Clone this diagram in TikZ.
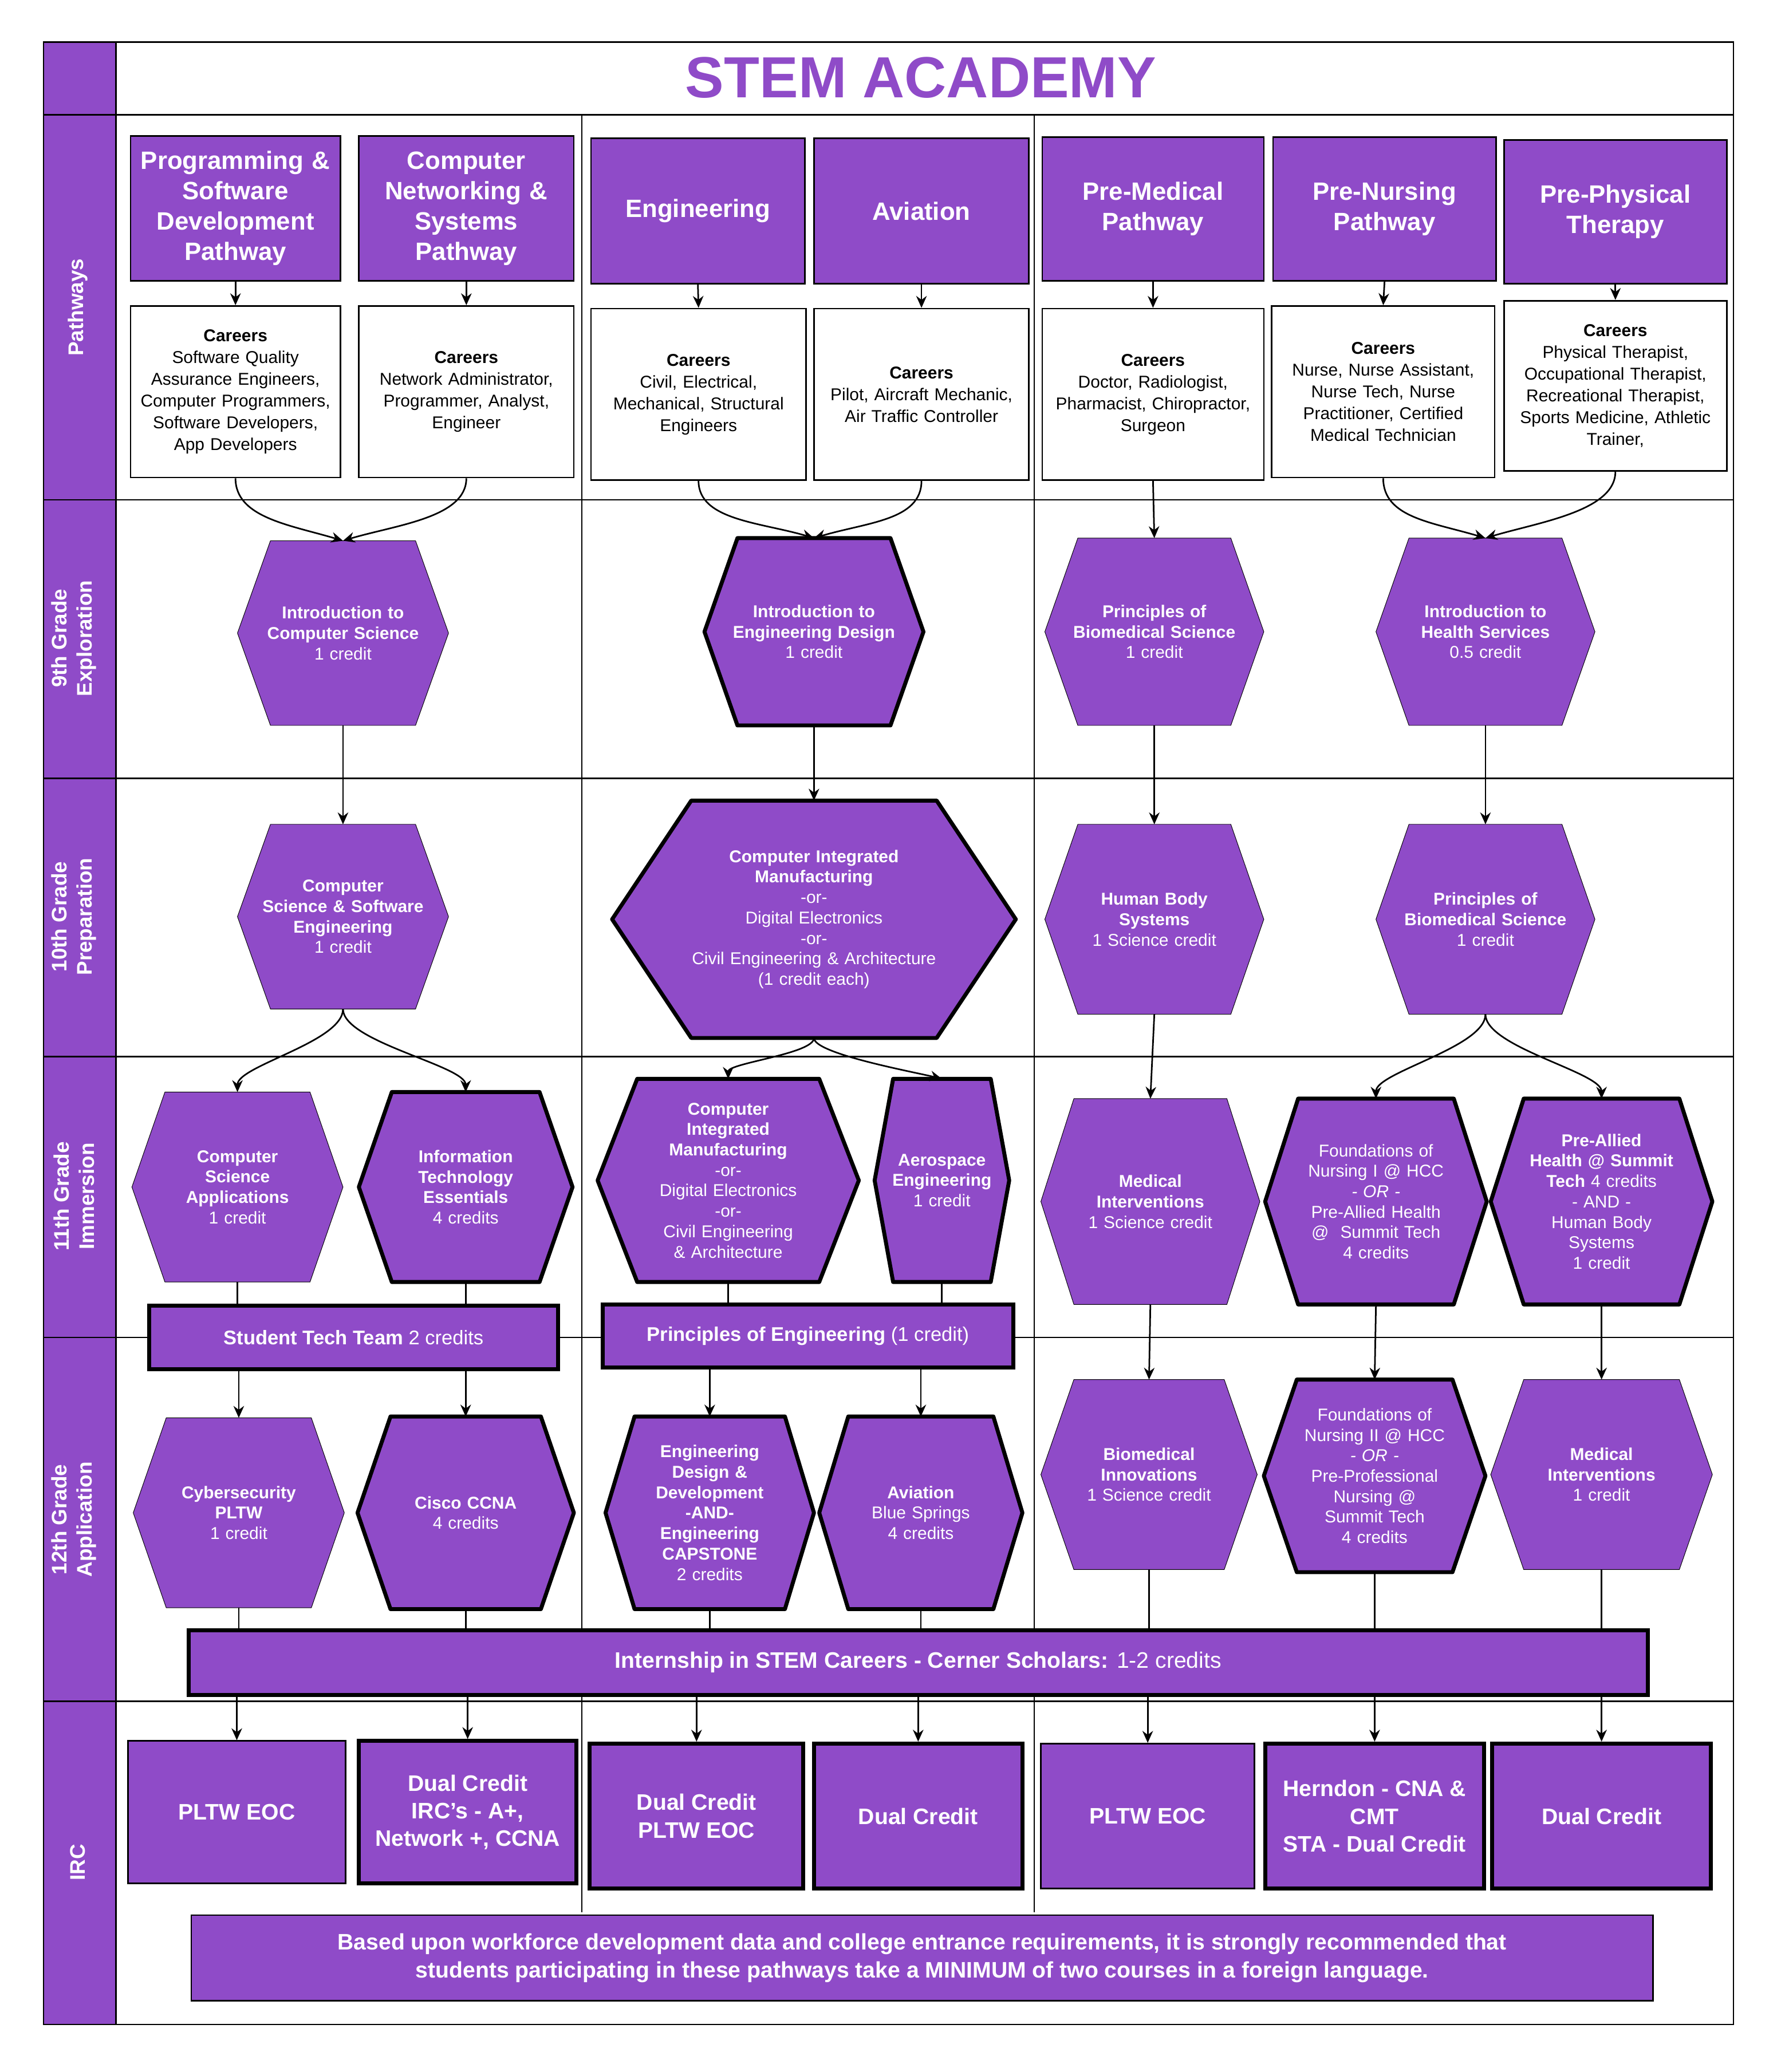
\documentclass[tikz,border=0pt]{standalone}
\usepackage{fontspec}
\setmainfont{Liberation Sans}
\usetikzlibrary{arrows.meta}
\definecolor{pp}{RGB}{143,75,200}
\newcommand\hexa[8]{%
\draw[#7] (#2-#4,#3) -- (#2-#4+#6,#3-#5) -- (#2+#4-#6,#3-#5) -- (#2+#4,#3) -- (#2+#4-#6,#3+#5) -- (#2-#4+#6,#3+#5) -- cycle;
\node[hextext,text width=2*#4-2*#6+40pt] (#1) at (#2,#3) {#8};
\coordinate (#1-t) at (#2,#3-#5); \coordinate (#1-b) at (#2,#3+#5);}
\begin{document}
\begin{tikzpicture}[x=1pt,y=-1pt,
 hthin/.style={fill=pp},
 hthick/.style={fill=pp,draw=black,line width=3pt,line join=round},
 hextext/.style={text=white,font=\fontsize{13}{15.5}\selectfont\bfseries,align=center,inner sep=0pt},
 pbox/.style={fill=pp,draw=black,line width=1.2pt,text=white,font=\fontsize{19}{23}\selectfont\bfseries,align=center,inner sep=0pt},
 cbox/.style={fill=white,draw=black,line width=1.2pt,font=\fontsize{13}{16.5}\selectfont,align=center,inner sep=0pt},
 bar/.style={fill=pp,draw=black,line width=3pt,text=white,font=\fontsize{15}{18}\selectfont\bfseries,align=center,inner sep=0pt},
 irc/.style={fill=pp,draw=black,line width=3pt,text=white,font=\fontsize{17}{21}\selectfont\bfseries,align=center,inner sep=0pt},
 lab/.style={rotate=90,text=white,font=\fontsize{16}{19}\selectfont\bfseries,align=center},
 conn/.style={line width=1.2pt,draw=black},
 arr/.style={conn,-{Stealth[length=9pt,width=8pt]}},
 grid/.style={line width=1.2pt,draw=black}]
\useasboundingbox (0,0) rectangle (1350,1571);
% frame
\fill[pp] (33,32) rectangle (88,1535);
\draw[grid] (33,32) rectangle (1314,1535);
\foreach \y in {87,379,590,801,1014,1290} \draw[grid] (33,\y) -- (1314,\y);
\draw[grid] (88,32) -- (88,1535);
\draw[grid] (441,87) -- (441,1450);
\draw[grid] (784,87) -- (784,1450);
\node[text=pp,font=\fontsize{44}{50}\selectfont\bfseries] (title) at (698,59) {STEM ACADEMY};
\node[lab] (l1) at (59,233) {Pathways};
\node[lab] (l2) at (56,484) {9th Grade\\Exploration};
\node[lab] (l3) at (56,695) {10th Grade\\Preparation};
\node[lab] (l4) at (56,907) {11th Grade\\Immersion};
\node[lab] (l5) at (56,1152) {12th Grade\\Application};
\node[lab] (l6) at (59,1412) {IRC};
% pathways
\node[pbox,minimum width=159pt,minimum height=110pt,text width=155pt] (p1) at (178.5,158) {Programming \&\\Software\\Development\\Pathway};
\node[pbox,minimum width=163pt,minimum height=110pt,text width=158pt] (p2) at (353.5,158) {Computer\\Networking \&\\Systems\\Pathway};
\node[pbox,minimum width=162pt,minimum height=110pt,text width=158pt] (p3) at (529,160) {Engineering};
\node[pbox,minimum width=163pt,minimum height=110pt,text width=158pt] (p4) at (698.5,160) {Aviation};
\node[pbox,minimum width=168pt,minimum height=109pt,text width=160pt] (p5) at (874,158.5) {Pre-Medical\\Pathway};
\node[pbox,minimum width=169pt,minimum height=109pt,text width=160pt] (p6) at (1049.5,158.5) {Pre-Nursing\\Pathway};
\node[pbox,minimum width=169pt,minimum height=109pt,text width=160pt] (p7) at (1224.5,160.5) {Pre-Physical\\Therapy};
% careers
\node[cbox,minimum width=159pt,minimum height=130pt,text width=158pt] (c1) at (178.5,297) {\textbf{Careers}\\Software Quality\\Assurance Engineers,\\Computer Programmers,\\Software Developers,\\App Developers};
\node[cbox,minimum width=163pt,minimum height=130pt,text width=158pt] (c2) at (353.5,297) {\textbf{Careers}\\Network Administrator,\\Programmer, Analyst,\\Engineer};
\node[cbox,minimum width=163pt,minimum height=130pt,text width=158pt] (c3) at (529.5,299) {\textbf{Careers}\\Civil, Electrical,\\Mechanical, Structural\\Engineers};
\node[cbox,minimum width=163pt,minimum height=130pt,text width=158pt] (c4) at (698.5,299) {\textbf{Careers}\\Pilot, Aircraft Mechanic,\\Air Traffic Controller};
\node[cbox,minimum width=168pt,minimum height=130pt,text width=166pt] (c5) at (874,299) {\textbf{Careers}\\Doctor, Radiologist,\\Pharmacist, Chiropractor,\\Surgeon};
\node[cbox,minimum width=169pt,minimum height=130pt,text width=166pt] (c6) at (1048.5,297) {\textbf{Careers}\\Nurse, Nurse Assistant,\\Nurse Tech, Nurse\\Practitioner, Certified\\Medical Technician};
\node[cbox,minimum width=169pt,minimum height=129pt,text width=166pt] (c7) at (1224.5,292.5) {\textbf{Careers}\\Physical Therapist,\\Occupational Therapist,\\Recreational Therapist,\\Sports Medicine, Athletic\\Trainer,};
\foreach \i in {1,...,7} \draw[arr] (p\i.south) -- (c\i.north);
% 9th
\hexa{a1}{260}{480}{80}{70}{25}{hthin}{Introduction to\\Computer Science\\\mdseries 1 credit}
\hexa{a2}{617}{479}{83}{71}{25}{hthick}{Introduction to\\Engineering Design\\\mdseries 1 credit}
\hexa{a3}{875}{479}{83}{71}{25}{hthin}{Principles of\\Biomedical Science\\\mdseries 1 credit}
\hexa{a4}{1126}{479}{83}{71}{25}{hthin}{Introduction to\\Health Services\\\mdseries 0.5 credit}
% 10th
\hexa{b1}{260}{695}{80}{70}{25}{hthin}{Computer\\Science \& Software\\Engineering\\\mdseries 1 credit}
\hexa{b2}{617}{697}{153}{90}{60}{hthick}{Computer Integrated\\Manufacturing\\\mdseries -or-\\Digital Electronics\\\mdseries -or-\\Civil Engineering \& Architecture\\\mdseries (1 credit each)}
\hexa{b3}{875}{697}{83}{72}{25}{hthin}{Human Body\\Systems\\\mdseries 1 Science credit}
\hexa{b4}{1126}{697}{83}{72}{25}{hthin}{Principles of\\Biomedical Science\\\mdseries 1 credit}
% 11th
\hexa{d1}{180}{900}{80}{72}{25}{hthin}{Computer\\Science\\Applications\\\mdseries 1 credit}
\hexa{d2}{353}{900}{81}{72}{25}{hthick}{Information\\Technology\\Essentials\\\mdseries 4 credits}
\hexa{d3}{552}{895}{99}{77}{30}{hthick}{Computer\\Integrated\\Manufacturing\\\mdseries -or-\\Digital Electronics\\\mdseries -or-\\Civil Engineering\\\& Architecture}
\hexa{d4}{714}{895}{51}{77}{14}{hthick}{Aerospace\\Engineering\\\mdseries 1 credit}
\hexa{d5}{872}{911}{83}{78}{25}{hthin}{Medical\\Interventions\\\mdseries 1 Science credit}
\hexa{d6}{1043}{911}{84}{78}{25}{hthick}{\mdseries Foundations of\\\mdseries Nursing I @ HCC\\\textit{- OR -}\\Pre-Allied Health\\@\ \ Summit Tech\\\mdseries 4 credits}
\hexa{d7}{1214}{911}{84}{78}{25}{hthick}{Pre-Allied\\Health @ Summit\\Tech \mdseries 4 credits\\- AND -\\Human Body\\Systems\\\mdseries 1 credit}
\node[bar,minimum width=310pt,minimum height=48pt] (s1) at (268,1014) {Student Tech Team \mdseries 2 credits};
\node[bar,minimum width=311pt,minimum height=48pt] (s2) at (612.5,1013) {Principles of Engineering \mdseries (1 credit)};
% 12th
\hexa{e1}{181}{1147}{80}{72}{25}{hthin}{Cybersecurity\\PLTW\\\mdseries 1 credit}
\hexa{e2}{353}{1147}{82}{73}{25}{hthick}{Cisco CCNA\\\mdseries 4 credits}
\hexa{e3}{538}{1147}{79}{73}{22}{hthick}{Engineering\\Design \&\\Development\\-AND-\\Engineering\\CAPSTONE\\\mdseries 2 credits}
\hexa{e4}{698}{1147}{77}{73}{22}{hthick}{Aviation\\\mdseries Blue Springs\\\mdseries 4 credits}
\hexa{e5}{871}{1118}{82}{72}{25}{hthin}{Biomedical\\Innovations\\\mdseries 1 Science credit}
\hexa{e6}{1042}{1119}{84}{73}{25}{hthick}{\mdseries Foundations of\\\mdseries Nursing II @ HCC\\\textit{- OR -}\\Pre-Professional\\Nursing @\\Summit Tech\\\mdseries 4 credits}
\hexa{e7}{1214}{1118}{84}{72}{25}{hthin}{Medical\\Interventions\\\mdseries 1 credit}
\node[bar,minimum width=1106pt,minimum height=49pt,font=\fontsize{17}{20}\selectfont\bfseries] (in) at (696,1260.5) {Internship in STEM Careers - Cerner Scholars: \mdseries 1-2 credits};
% IRC
\node[irc,line width=1.2pt,minimum width=165pt,minimum height=108pt] (f1) at (179.5,1374) {PLTW EOC};
\node[irc,minimum width=165pt,minimum height=108pt] (f2) at (354.5,1374) {Dual Credit\\IRC's - A+,\\Network +, CCNA};
\node[irc,minimum width=162pt,minimum height=110pt] (f3) at (528,1377) {Dual Credit\\PLTW EOC};
\node[irc,minimum width=158pt,minimum height=110pt] (f4) at (696,1377) {Dual Credit};
\node[irc,line width=1.2pt,minimum width=162pt,minimum height=110pt] (f5) at (870,1377) {PLTW EOC};
\node[irc,minimum width=166pt,minimum height=110pt] (f6) at (1042,1377) {Herndon - CNA \&\\CMT\\STA - Dual Credit};
\node[irc,minimum width=166pt,minimum height=110pt] (f7) at (1214,1377) {Dual Credit};
\node[irc,line width=1.2pt,minimum width=1108pt,minimum height=65pt] (note) at (699,1484.5) {Based upon workforce development data and college entrance requirements, it is strongly recommended that\\students participating in these pathways take a MINIMUM of two courses in a foreign language.};
% connectors
\draw[arr] (c1.south) .. controls +(0,30) and +(-40,-12) .. (a1-t);
\draw[arr] (c2.south) .. controls +(0,30) and +(40,-12) .. (a1-t);
\draw[arr] (c3.south) .. controls +(0,30) and +(-40,-12) .. (a2-t);
\draw[arr] (c4.south) .. controls +(0,30) and +(40,-12) .. (a2-t);
\draw[arr] (c5.south) -- (a3-t);
\draw[arr] (c6.south) .. controls +(0,30) and +(-40,-12) .. (a4-t);
\draw[arr] (c7.south) .. controls +(0,30) and +(40,-12) .. (a4-t);
\draw[arr] (a1-b) -- (b1-t);
\draw[arr] (a2-b) -- (b2-t);
\draw[arr] (a3-b) -- (b3-t);
\draw[arr] (a4-b) -- (b4-t);
\draw[arr] (b1-b) .. controls +(0,25) and +(0,-20) .. (d1-t);
\draw[arr] (b1-b) .. controls +(0,25) and +(0,-20) .. (d2-t);
\draw[arr] (b2-b) .. controls +(0,12) and +(0,-12) .. (d3-t);
\draw[arr] (b2-b) .. controls +(0,12) and +(-20,-5) .. (d4-t);
\draw[arr] (b3-b) -- (d5-t);
\draw[arr] (b4-b) .. controls +(0,25) and +(0,-20) .. (d6-t);
\draw[arr] (b4-b) .. controls +(0,25) and +(0,-20) .. (d7-t);
\draw[conn] (d1-b) -- (d1-b|-s1.north);
\draw[conn] (d2-b) -- (d2-b|-s1.north);
\draw[conn] (d3-b) -- (d3-b|-s2.north);
\draw[conn] (d4-b) -- (d4-b|-s2.north);
\draw[arr] (e1-t|-s1.south) -- (e1-t);
\draw[arr] (e2-t|-s1.south) -- (e2-t);
\draw[arr] (e3-t|-s2.south) -- (e3-t);
\draw[arr] (e4-t|-s2.south) -- (e4-t);
\draw[arr] (d5-b) -- (e5-t);
\draw[arr] (d6-b) -- (e6-t);
\draw[arr] (d7-b) -- (e7-t);
\foreach \i in {1,...,7} {\draw[conn] (e\i-b) -- (e\i-b|-in.north); \draw[arr] (f\i.north|-in.south) -- (f\i.north);}
\end{tikzpicture}
\end{document}
